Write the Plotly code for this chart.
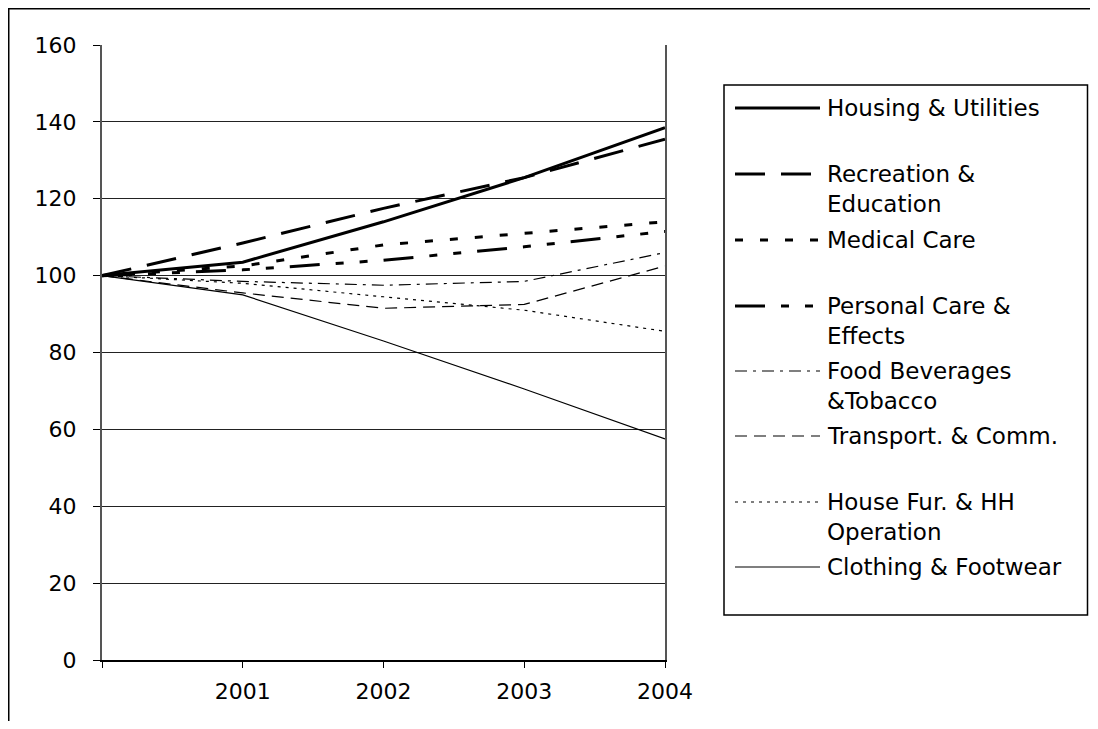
import plotly.graph_objects as go

# ---------------- data ----------------
years = [2000, 2001, 2002, 2003, 2004]
tick_labels = ["", "2001", "2002", "2003", "2004"]

series_names = [
    "Housing & Utilities",
    "Recreation & Education",
    "Medical Care",
    "Personal Care & Effects",
    "Food Beverages &Tobacco",
    "Transport. & Comm.",
    "House Fur. & HH Operation",
    "Clothing & Footwear",
]
legend_labels = [
    "Housing & Utilities",
    "Recreation &<br>Education",
    "Medical Care",
    "Personal Care &<br>Effects",
    "Food Beverages<br>&Tobacco",
    "Transport. & Comm.",
    "House Fur. & HH<br>Operation",
    "Clothing & Footwear",
]

housing = [100, 103.5, 114, 125.5, 138.5]
recreation = [100, 108.5, 117.5, 125.5, 135.5]
medical = [100, 102.5, 108, 111, 114]
personal = [100, 101.5, 104, 107.5, 111.5]
food = [100, 98.5, 97.5, 98.5, 106]
transport = [100, 95.5, 91.5, 92.5, 102.5]
house_fur = [100, 98, 94.5, 91, 85.5]
clothing = [100, 95, 83, 70.5, 57.5]

values = [housing, recreation, medical, personal, food, transport, house_fur, clothing]

# ---------------- styles ----------------
styles = [
    dict(width=3, dash="solid"),
    dict(width=3, dash="30px,16px"),
    dict(width=3, dash="8px,17px"),
    dict(width=3, dash="30px,16px,8px,16px,8px,16px"),
    dict(width=1.2, dash="12px,6px,3px,6px"),
    dict(width=1.2, dash="12px,7px"),
    dict(width=1.2, dash="3px,5px"),
    dict(width=1.2, dash="solid"),
]

# the page adds an 8px body margin, so work in page pixels minus 8
OFF = 8
W, H = 1098 - OFF, 729 - 2 * OFF
PL, PR, PT, PB = 102 - OFF, 665 - OFF, 45 - OFF, 660 - OFF  # plot area in figure pixels


def px_x(p):
    """page pixel x -> paper"""
    return (p - OFF - PL) / (PR - PL)


def px_y(p):
    """page pixel y -> paper"""
    return (PB - (p - OFF)) / (PB - PT)


FONT = "DejaVu Sans"

fig = go.Figure()
for name, vals, st in zip(series_names, values, styles):
    fig.add_trace(go.Scatter(
        x=years, y=vals, name=name, mode="lines",
        line=dict(color="black", width=st["width"], dash=st["dash"]),
        showlegend=False,
    ))

shapes = []
annotations = []

# outer chart border (right and bottom edges fall outside the page)
shapes.append(dict(type="rect", xref="paper", yref="paper",
                   x0=px_x(8.75), x1=px_x(1200), y0=px_y(8.75), y1=px_y(900),
                   line=dict(color="black", width=1.5), layer="below"))

# legend box
shapes.append(dict(type="rect", xref="paper", yref="paper",
                   x0=px_x(724), x1=px_x(1087.5), y0=px_y(85), y1=px_y(615),
                   line=dict(color="black", width=1.5), fillcolor="white"))

entry_y = [108, 174, 240, 306, 371, 436, 502, 567]
for lab, st, ey in zip(legend_labels, styles, entry_y):
    shapes.append(dict(type="line", xref="paper", yref="paper",
                       x0=px_x(735), x1=px_x(820), y0=px_y(ey), y1=px_y(ey),
                       line=dict(color="black", width=st["width"], dash=st["dash"])))
    annotations.append(dict(xref="paper", yref="paper", x=px_x(825), y=px_y(ey - 15),
                            xanchor="left", yanchor="top", text=lab, showarrow=False,
                            align="left", font=dict(family=FONT, size=23, color="black")))

fig.update_layout(
    width=W, height=H,
    margin=dict(l=PL, r=W - PR, t=PT, b=H - PB, pad=0),
    paper_bgcolor="white", plot_bgcolor="white",
    showlegend=False,
    shapes=shapes, annotations=annotations,
    font=dict(family=FONT, size=22, color="black"),
    xaxis=dict(
        range=[years[0], years[-1]], tickvals=years, ticktext=tick_labels,
        showgrid=False, zeroline=False, showline=True, linecolor="black", linewidth=1.5,
        ticks="outside", ticklen=6, tickcolor="black", tickwidth=1,
        ticklabelstandoff=5,
        tickfont=dict(family=FONT, size=22, color="black"),
    ),
    yaxis=dict(
        range=[0, 160], dtick=20, tick0=0,
        showgrid=True, gridcolor="#222", gridwidth=1,
        zeroline=False, showline=True, linecolor="#555", linewidth=2, mirror=True,
        ticks="outside", ticklen=7, tickcolor="black", tickwidth=1,
        ticklabelstandoff=12,
        tickfont=dict(family=FONT, size=22, color="black"),
    ),
)

fig.write_html("out.html")
